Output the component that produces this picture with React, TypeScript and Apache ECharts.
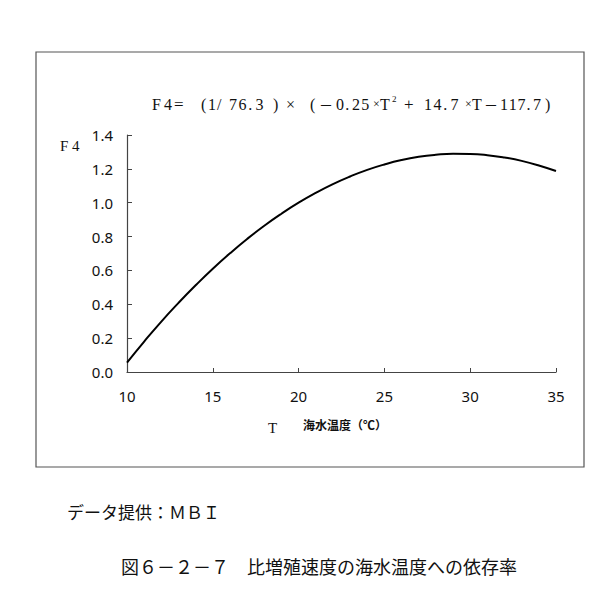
import React, { useEffect, useRef } from "react";
import * as echarts from "echarts";

const temperatures = [10, 11, 12, 13, 14, 15, 16, 17, 18, 19, 20, 21, 22, 23, 24, 25, 26, 27, 28, 29, 30, 31, 32, 33, 34, 35];
const f4Values = [0.056, 0.18, 0.298, 0.408, 0.512, 0.61, 0.701, 0.786, 0.864, 0.935, 1.0, 1.058, 1.11, 1.155, 1.194, 1.226, 1.252, 1.271, 1.283, 1.289, 1.288, 1.281, 1.267, 1.247, 1.22, 1.187];
const xTicks = [10, 15, 20, 25, 30, 35];

const yAxisLabel = "F 4";
const xAxisSymbol = "T";
const xAxisLabel = "海水温度（℃）";
const sourceText = "データ提供：ＭＢＩ";
const captionText = "図６－２－７　比増殖速度の海水温度への依存率";

const serif = "'Liberation Serif', 'DejaVu Serif', serif";
const sans = "'Noto Sans', 'DejaVu Sans', sans-serif";
const cjk = "'Noto Sans CJK JP', sans-serif";

// formula "F 4 = (1/ 76.3 ) × (−0.25 ×T² + 14.7 ×T −117.7)" laid out piece by piece
type Piece = { t: string; x: number; adv?: number; size?: number; font?: string; dy?: number };
const formulaPieces: Piece[] = [
  { t: "F", x: 152 },
  { t: "4", x: 164 },
  { t: "=", x: 174, size: 17 },
  { t: "(", x: 201 },
  { t: "1", x: 208 },
  { t: "/", x: 217 },
  { t: "76.3", x: 229, adv: 9.6 },
  { t: ")", x: 273 },
  { t: "×", x: 286, size: 16 },
  { t: "(", x: 310 },
  { t: "－", x: 319, size: 14, font: cjk },
  { t: "0.25", x: 336, adv: 9.2 },
  { t: "×", x: 373, size: 12 },
  { t: "T", x: 380 },
  { t: "2", x: 392, size: 9, dy: -5 },
  { t: "+", x: 404, size: 17 },
  { t: "14.7", x: 424, adv: 9.6 },
  { t: "×", x: 465, size: 12 },
  { t: "T", x: 472 },
  { t: "－", x: 484, size: 14, font: cjk },
  { t: "117.7", x: 500, adv: 8.8 },
  { t: ")", x: 545 },
];

function formulaGraphics(y: number) {
  const out: any[] = [];
  formulaPieces.forEach((p) => {
    const chars = p.adv ? p.t.split("") : [p.t];
    let x = p.x;
    chars.forEach((c) => {
      out.push({
        type: "text",
        x,
        y: y + (p.dy || 0),
        style: {
          text: c,
          font: `${p.size || 16}px ${p.font || serif}`,
          fill: "#111",
          verticalAlign: "middle",
        },
      });
      if (p.adv) x += c === "." ? p.adv * 0.75 : p.adv;
    });
  });
  return out;
}

export default function App() {
  const ref = useRef<HTMLDivElement>(null);
  useEffect(() => {
    if (!ref.current) return;
    const chart = echarts.init(ref.current, undefined, { renderer: "svg" });
    const axisColor = "#444";
    chart.setOption({
      animation: false,
      backgroundColor: "#fff",
      grid: { left: 127, right: 44, top: 135, bottom: 220 },
      xAxis: {
        type: "value",
        min: 10,
        max: 35,
        interval: 5,
        axisLine: { show: true, onZero: false, lineStyle: { color: axisColor, width: 1.2 } },
        axisTick: { show: true, inside: true, length: 4, lineStyle: { color: axisColor } },
        axisLabel: {
          color: "#111",
          fontSize: 15,
          fontFamily: sans,
          margin: 16,
          customValues: xTicks,
        },
        splitLine: { show: false },
      },
      yAxis: {
        type: "value",
        min: 0,
        max: 1.4,
        interval: 0.2,
        axisLine: { show: true, onZero: false, lineStyle: { color: axisColor, width: 1.2 } },
        axisTick: { show: true, inside: true, length: 5, lineStyle: { color: axisColor } },
        axisLabel: {
          color: "#111",
          fontSize: 15,
          fontFamily: sans,
          margin: 14,
          formatter: (v: number) => v.toFixed(1),
        },
        splitLine: { show: false },
      },
      series: [
        {
          type: "line",
          data: temperatures.map((t, i) => [t, f4Values[i]]),
          smooth: true,
          showSymbol: false,
          lineStyle: { color: "#000", width: 2 },
        },
      ],
      graphic: [
        {
          type: "rect",
          shape: { x: 36, y: 52, width: 548, height: 415 },
          style: { fill: "none", stroke: "#555", lineWidth: 1.2 },
          silent: true,
        },
        ...formulaGraphics(104),
        {
          type: "text",
          x: 60,
          y: 146,
          style: { text: yAxisLabel, font: `15px ${serif}`, fill: "#111", verticalAlign: "middle" },
        },
        {
          type: "text",
          x: 268,
          y: 428,
          style: { text: xAxisSymbol, font: `15px ${serif}`, fill: "#111", verticalAlign: "middle" },
        },
        {
          type: "text",
          x: 303,
          y: 424,
          style: { text: xAxisLabel, font: `bold 12px ${cjk}`, fill: "#111", verticalAlign: "middle" },
        },
        {
          type: "text",
          x: 67,
          y: 511,
          style: { text: sourceText, font: `17px ${cjk}`, fill: "#111", verticalAlign: "middle" },
        },
        {
          type: "text",
          x: 121,
          y: 566,
          style: { text: captionText, font: `18px ${cjk}`, fill: "#111", verticalAlign: "middle" },
        },
      ],
    });
    return () => chart.dispose();
  }, []);
  return (
    <div
      ref={ref}
      style={{ position: "fixed", left: 0, top: 0, width: 600, height: 592 }}
    />
  );
}
